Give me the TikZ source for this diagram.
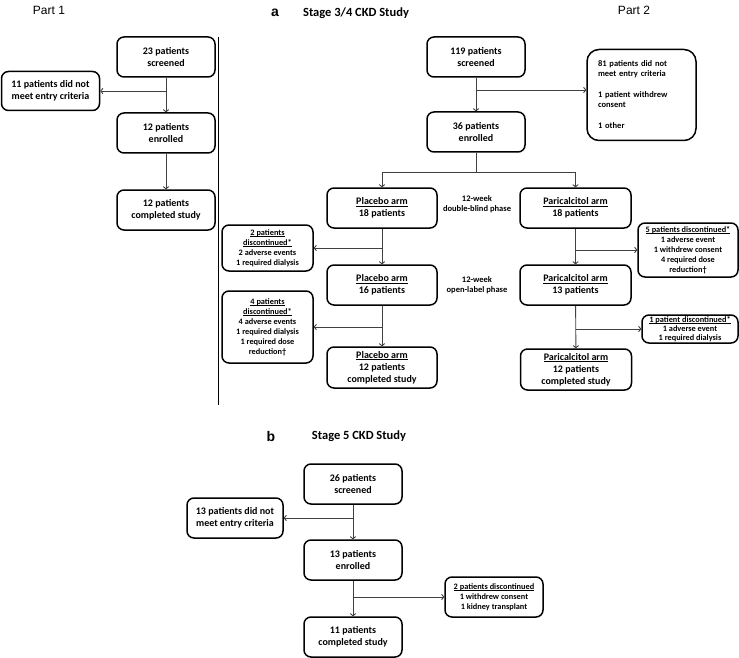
\documentclass[tikz,border=0pt]{standalone}
\usepackage{fontspec}
\setmainfont{Carlito}
\newfontfamily\arialfont{Liberation Sans}
\usetikzlibrary{arrows.meta,calc}
\newcommand\uln[1]{\setbox0\hbox{#1}\rlap{\rule[-1.4pt]{\wd0}{0.55pt}}\box0}
\begin{document}
\begin{tikzpicture}[x=1pt,y=-1pt,
  mbox/.style={draw, line width=1.5pt, rounded corners=7pt, align=center,
    font=\bfseries\fontsize{10}{12}\selectfont, inner sep=1pt,
    minimum width=98pt, minimum height=40pt},
  abox/.style={mbox, minimum width=110pt},
  dbox/.style={draw, line width=1.5pt, rounded corners=7pt, align=center,
    font=\bfseries\fontsize{8.3}{10}\selectfont, inner sep=0pt},
  lbl/.style={align=center, font=\bfseries\fontsize{8.5}{10}\selectfont, inner sep=0pt},
  ttl/.style={font=\bfseries\fontsize{12.5}{14}\selectfont, inner sep=0pt},
  lett/.style={font=\arialfont\bfseries\fontsize{14}{16}\selectfont, inner sep=0pt},
  part/.style={font=\arialfont\fontsize{12}{14}\selectfont, inner sep=0pt},
  conn/.style={draw=black!75, line width=0.9pt},
  arr/.style={conn, -{To[length=3pt,width=6pt]}},
  sepline/.style={draw=black, line width=0.9pt}
]
\path[use as bounding box] (0,0) rectangle (739,658);

% Titles
\node[part] (pt1) at (49,10) {Part 1};
\node[part] (pt2) at (634,10) {Part 2};
\node[lett] (la) at (275,13) {a};
\node[ttl] (ta) at (356,13) {Stage 3/4 CKD Study};
\node[lett] (lb) at (271,436) {b};
\node[ttl] (tb) at (359,436) {Stage 5 CKD Study};

\draw[sepline] (218,37) -- (218,405);

% Part 1
\node[mbox] (s1) at (166,57) {23 patients\\screened};
\node[mbox, minimum width=98pt, minimum height=39pt] (x1) at (50.5,91) {11 patients did not\\meet entry criteria};
\node[mbox] (e1) at (166,133) {12 patients\\enrolled};
\node[mbox] (c1) at (166,210) {12 patients\\completed study};
\draw[arr] (s1) -- (e1);
\draw[arr] (e1) -- (c1);
\draw[arr] (s1.south |- x1.east) -- (x1.east);

% Part 2
\node[mbox] (s2) at (476,57) {119 patients\\screened};
\node[draw, line width=1.5pt, rounded corners=12pt, align=left,
  font=\bfseries\fontsize{8.5}{10}\selectfont, inner sep=0pt,
  text width=87pt, minimum width=109pt, minimum height=91pt] (x2) at (641.5,95)
  {81 patients did not\\meet entry criteria\\[11pt]1 patient withdrew\\consent\\[11pt]1 other};
\node[mbox] (e2) at (476,132) {36 patients\\enrolled};
\coordinate (br2) at (476,90);
\draw[arr] (s2) -- (e2);
\draw[arr] (br2) -- (br2 -| x2.west);

\node[abox] (p1) at (382,208) {\uln{Placebo arm}\\18 patients};
\node[abox, minimum width=111pt] (q1) at (575.5,208) {\uln{Paricalcitol arm}\\18 patients};
\node[lbl] (l1) at (477,204) {12-week\\double-blind phase};
\node[abox] (p2) at (382,285) {\uln{Placebo arm}\\16 patients};
\node[abox, minimum width=111pt] (q2) at (575.5,285) {\uln{Paricalcitol arm}\\13 patients};
\node[lbl] (l2) at (477,285) {12-week\\open-label phase};
\node[abox, minimum height=41pt, font=\bfseries\fontsize{10}{11.8}\selectfont, inner sep=0pt] (p3) at (382,367.5) {\uln{Placebo arm}\\12 patients\\completed study};
\node[abox, minimum width=111pt, minimum height=41pt, font=\bfseries\fontsize{10}{11.8}\selectfont, inner sep=0pt] (q3) at (576,369.5) {\uln{Paricalcitol arm}\\12 patients\\completed study};

\coordinate (sp) at (476,172);
\draw[conn] (e2.south) -- (sp);
\draw[conn] (sp -| p1) -- (sp -| q1);
\draw[arr] (sp -| p1) -- (p1.north);
\draw[arr] (sp -| q1) -- (q1.north);

\draw[arr] (p1) -- (p2);
\draw[arr] (p2) -- (p3);
\draw[arr] (q1) -- (q2);
\draw[arr] (q2) -- (q3);

\node[dbox, minimum width=91pt, minimum height=46pt] (d1) at (267.5,248)
  {\uln{2 patients}\\\uln{discontinued*}\\2 adverse events\\1 required dialysis};
\node[dbox, minimum width=91pt, minimum height=72pt] (d2) at (267.5,327)
  {\uln{4 patients}\\\uln{discontinued*}\\4 adverse events\\1 required dialysis\\1 required dose\\reduction†};
\node[dbox, minimum width=100pt, minimum height=54pt] (d3) at (688,250)
  {\uln{5 patients discontinued*}\\1 adverse event\\1 withdrew consent\\4 required dose\\reduction†};
\node[dbox, minimum width=96pt, minimum height=28pt,
  font=\bfseries\fontsize{8.3}{9.3}\selectfont] (d4) at (690,329)
  {\uln{1 patient discontinued*}\\1 adverse event\\1 required dialysis};

\draw[arr] (p1.south |- d1.east) -- (d1.east);
\draw[arr] (p2.south |- d2.east) -- (d2.east);
\draw[arr] (q1.south |- d3.west) -- (d3.west);
\draw[arr] (q2.south |- d4.west) -- (d4.west);

% Part b
\node[mbox] (s3) at (353,484) {26 patients\\screened};
\node[mbox, minimum width=96pt] (x3) at (235,518) {13 patients did not\\meet entry criteria};
\node[mbox] (e3) at (353,560) {13 patients\\enrolled};
\node[mbox] (c3) at (353,637) {11 patients\\completed study};
\node[dbox, minimum width=98pt, minimum height=40pt] (d5) at (494,597)
  {\uln{2 patients discontinued}\\1 withdrew consent\\1 kidney transplant};

\draw[arr] (s3) -- (e3);
\draw[arr] (e3) -- (c3);
\draw[arr] (s3.south |- x3.east) -- (x3.east);
\draw[arr] (e3.south |- d5.west) -- (d5.west);
\end{tikzpicture}
\end{document}
